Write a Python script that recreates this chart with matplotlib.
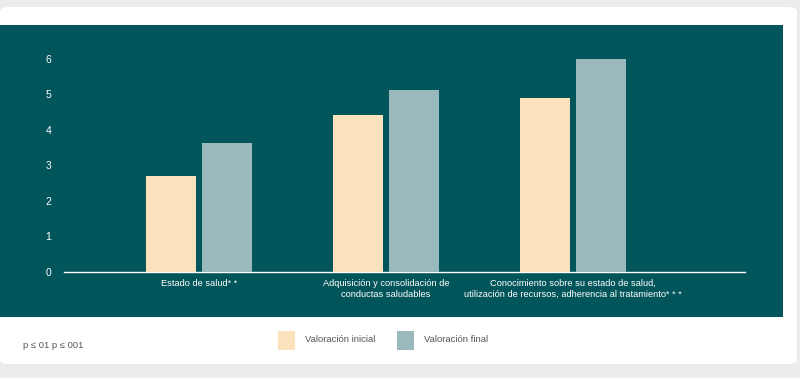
import matplotlib
matplotlib.use('Agg')
import matplotlib.pyplot as plt
import numpy as np
from matplotlib.patches import Rectangle, FancyBboxPatch

categories = ['Estado de salud* *',
              'Adquisición y consolidación de\nconductas saludables',
              'Conocimiento sobre su estado de salud,\nutilización de recursos, adherencia al tratamiento* * *']
inicial = [2.7, 4.42, 4.9]
final = [3.63, 5.13, 6.0]
series_labels = ['Valoración inicial', 'Valoración final']
yticks = [0, 1, 2, 3, 4, 5, 6]

TEAL = '#02555a'
INI_COLOR = '#fce2bc'
FIN_COLOR = '#9ab9bd'
GREY_TEXT = '#555555'

plt.rcParams['font.family'] = ['Liberation Sans', 'DejaVu Sans']

W, H = 800, 378
fig = plt.figure(figsize=(W / 100, H / 100), dpi=100)
fig.patch.set_facecolor('#ececec')

def fx(px):
    return px / W

def fy(py):
    return 1 - py / H

# white card and teal panel, behind the axes
fig.patches.append(FancyBboxPatch((fx(0), fy(364)), fx(797), fy(7) - fy(364),
                                  boxstyle='round,pad=0,rounding_size=0.012',
                                  transform=fig.transFigure, facecolor='white',
                                  edgecolor='none', zorder=-2))
fig.patches.append(Rectangle((fx(0), fy(317)), fx(783), fy(25) - fy(317),
                             transform=fig.transFigure, facecolor=TEAL,
                             edgecolor='none', zorder=-1))

ax = fig.add_axes([fx(64), fy(272), fx(745) - fx(64), fy(48) - fy(272)])
ax.set_facecolor('none')
x = np.arange(len(categories))
w = 0.267
off = 0.15
ax.bar(x - off, inicial, w, color=INI_COLOR, edgecolor='none', zorder=3)
ax.bar(x + off, final, w, color=FIN_COLOR, edgecolor='none', zorder=3)
ax.set_xlim(-0.72, 2.92)
ax.set_ylim(0, 6.3)
for s in ['top', 'right', 'left']:
    ax.spines[s].set_visible(False)
ax.spines['bottom'].set_color('white')
ax.spines['bottom'].set_linewidth(1)
ax.set_yticks(yticks)
ax.set_yticklabels([str(v) for v in yticks], color='white', fontsize=7.5)
ax.tick_params(axis='y', length=0, pad=9)
ax.set_xticks(x)
ax.set_xticklabels(categories, color='white', fontsize=6.7, linespacing=1.3)
ax.tick_params(axis='x', length=0, pad=5)

# footnote
fig.text(fx(23), fy(346), 'p ≤ 01 p ≤ 001', color=GREY_TEXT, fontsize=6.8,
         va='center', ha='left')

# legend
for px, col, lab in [(278, INI_COLOR, series_labels[0]), (397, FIN_COLOR, series_labels[1])]:
    fig.patches.append(Rectangle((fx(px), fy(350)), fx(17), fy(331) - fy(350),
                                 transform=fig.transFigure, facecolor=col,
                                 edgecolor='none', zorder=2))
    fig.text(fx(px + 27), fy(340), lab, color=GREY_TEXT, fontsize=6.8,
             va='center', ha='left')

fig.savefig('out.png', dpi=100, facecolor=fig.get_facecolor())
